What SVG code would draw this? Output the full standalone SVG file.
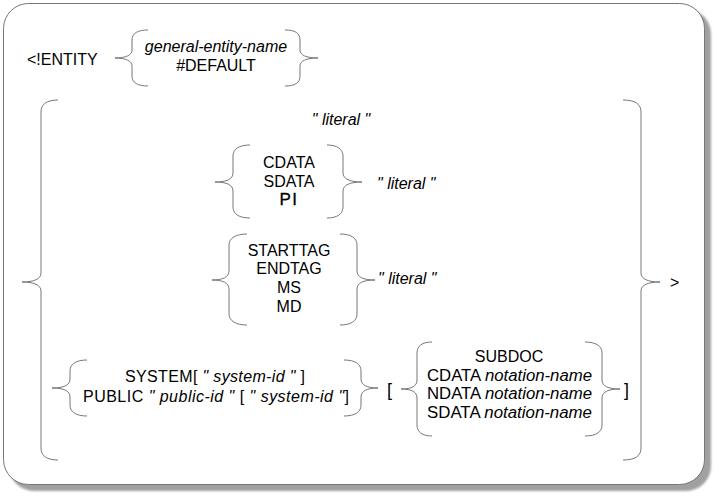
<svg xmlns="http://www.w3.org/2000/svg" width="719" height="503" viewBox="0 0 719 503">
<style>
text{font-family:"Liberation Sans",Arial,sans-serif;font-size:16px;fill:#000}
.i{font-style:italic}
.m{text-anchor:middle}
.br{fill:none;stroke:#777;stroke-width:1}
</style>
<defs>
<filter id="sh" x="-5%" y="-5%" width="110%" height="110%"><feGaussianBlur stdDeviation="1.2"/></filter>
</defs>
<rect x="9" y="9" width="702" height="482" rx="25" fill="#a0a0a0" filter="url(#sh)"/>
<rect x="3.5" y="3.5" width="701" height="481" rx="25" fill="#fff" stroke="#777" stroke-width="1"/>

<g id="braces" class="br">
<path d="M148,30 C138,30 132,33 132,40 L132,50 C132,55 126,58 115,58 C126,58 132,61 132,66 L132,76 C132,83 138,86 148,86"/>
<path d="M285,30 C295,30 300,33 300,40 L300,50 C300,55 306,58 318,58 C306,58 300,61 300,66 L300,76 C300,83 295,86 285,86"/>
<path d="M58,100 C47,100 41,104 41,112 L41,273 C41,279 34,282 22,282 C34,282 41,285 41,291 L41,448 C41,456 47,460 58,460"/>
<path d="M623,100 C635,100 641,104 641,112 L641,273 C641,279 648,282 660,282 C648,282 641,285 641,291 L641,448 C641,456 635,460 623,460"/>
<path d="M250,145 C239,145 233,149 233,156 L233,173 C233,179 227,182 215,182 C227,182 233,185 233,191 L233,207 C233,214 239,218 250,218"/>
<path d="M327,145 C337,145 343,149 343,156 L343,173 C343,179 350,182 362,182 C350,182 343,185 343,191 L343,207 C343,214 337,218 327,218"/>
<path d="M247,234 C236,234 229,238 229,245 L229,271 C229,277 223,280 212,280 C223,280 229,283 229,289 L229,314 C229,321 236,325 247,325"/>
<path d="M340,234 C351,234 357,238 357,245 L357,271 C357,277 363,280 375,280 C363,280 357,283 357,289 L357,314 C357,321 351,325 340,325"/>
<path d="M87,360 C76,360 70,364 70,371 L70,379 C70,385 64,388 52,388 C64,388 70,391 70,397 L70,405 C70,412 76,416 87,416"/>
<path d="M344,360 C355,360 361,364 361,371 L361,379 C361,385 367,388 378,388 C367,388 361,391 361,397 L361,405 C361,412 355,416 344,416"/>
<path d="M432,342 C422,342 417,346 417,353 L417,380 C417,386 412,389 401,389 C412,389 417,392 417,398 L417,425 C417,432 422,436 432,436"/>
<path d="M585,342 C596,342 602,346 602,353 L602,380 C602,386 608,389 620,389 C608,389 602,392 602,398 L602,425 C602,432 596,436 585,436"/>
</g>

<g id="entity-open"><text x="27" y="65">&lt;!ENTITY</text></g>
<g id="entity-name">
<text class="m i" x="216" y="52">general-entity-name</text>
<text class="m" x="216" y="71">#DEFAULT</text>
</g>
<g id="literal-1"><text class="m i" x="341" y="125">" literal "</text></g>
<g id="data-kinds">
<text class="m" x="289" y="168">CDATA</text>
<text class="m" x="289" y="187">SDATA</text>
<text class="m" x="289" y="205" style="font-size:17px;letter-spacing:1.5px;stroke:#000;stroke-width:0.3">PI</text>
</g>
<g id="literal-2"><text class="i" x="377" y="189">" literal "</text></g>
<g id="tag-kinds">
<text class="m" x="289" y="256">STARTTAG</text>
<text class="m" x="289" y="274">ENDTAG</text>
<text class="m" x="289" y="293">MS</text>
<text class="m" x="289" y="312">MD</text>
</g>
<g id="literal-3"><text class="i" x="378" y="284">" literal "</text></g>
<g id="external-id">
<text x="125" y="382" textLength="180" lengthAdjust="spacing">SYSTEM[ <tspan class="i">" system-id "</tspan> ]</text>
<text x="83" y="402" textLength="266" lengthAdjust="spacing">PUBLIC <tspan class="i">" public-id "</tspan> [ <tspan class="i">" system-id "</tspan>]</text>
</g>
<g id="open-bracket"><text x="387" y="396" style="font-size:18px">[</text></g>
<g id="notation">
<text class="m" x="509" y="362">SUBDOC</text>
<text x="427" y="381" textLength="165" lengthAdjust="spacingAndGlyphs">CDATA <tspan class="i">notation-name</tspan></text>
<text x="427" y="399" textLength="165" lengthAdjust="spacingAndGlyphs">NDATA <tspan class="i">notation-name</tspan></text>
<text x="427" y="418" textLength="165" lengthAdjust="spacingAndGlyphs">SDATA <tspan class="i">notation-name</tspan></text>
</g>
<g id="close-bracket"><text x="624" y="396" style="font-size:18px">]</text></g>
<g id="entity-close"><text x="670" y="288">&gt;</text></g>
</svg>
